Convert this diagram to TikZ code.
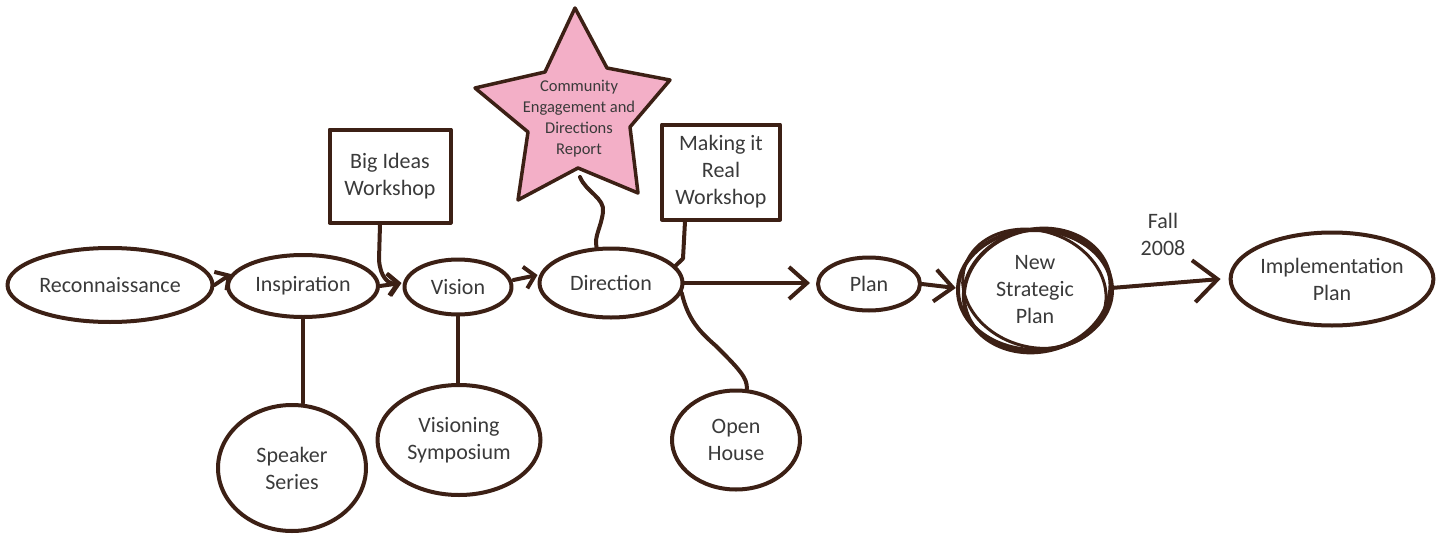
\documentclass[tikz,border=0pt]{standalone}
\usepackage{fontspec}
\setmainfont{Carlito}
\usetikzlibrary{shapes.geometric,arrows.meta,calc}
\definecolor{ink}{HTML}{3C2015}
\definecolor{txt}{HTML}{3A3A3A}
\definecolor{pinkfill}{HTML}{F3AFC7}
\begin{document}
\begin{tikzpicture}[x=1pt,y=-1pt,
  sk/.style={draw=ink, line width=4pt, line cap=round, line join=round},
  bigfont/.style={font=\fontsize{22}{27}\selectfont},
  bub/.style={sk, ellipse, inner sep=0pt, text=txt, align=center, bigfont},
  boxn/.style={sk, rectangle, inner sep=0pt, text=txt, align=center, bigfont},
  lbl/.style={text=txt, align=center, inner sep=0pt, bigfont},
  arrS/.style={sk, -{Straight Barb[length=10pt,width=22pt]}},
  arrM/.style={sk, -{Straight Barb[length=18pt,width=32pt]}},
  arrL/.style={sk, -{Straight Barb[length=24pt,width=42pt]}},
  conn/.style={sk}
]
\useasboundingbox (0,0) rectangle (1441,538);

% main chain
\node[bub, minimum width=205pt, minimum height=74pt] (recon) at (110,285) {Reconnaissance};
\node[bub, minimum width=150pt, minimum height=62pt] (insp) at (303,286) {Inspiration};
\node[bub, minimum width=107pt, minimum height=55pt] (vision) at (458,287) {Vision};
\node[bub, minimum width=143pt, minimum height=69pt] (direction) at (611,283) {Direction};
\node[bub, minimum width=102pt, minimum height=53pt] (plan) at (869,284) {Plan};
\node[lbl, minimum width=150pt, minimum height=118pt, ellipse] (nsp) at (1035,290) {New\\Strategic\\Plan};
\node[bub, minimum width=189pt, minimum height=93pt] (impl) at (1332,279) {Implementation\\Plan};

% lower bubbles
\node[bub, minimum width=148pt, minimum height=126pt] (speaker) at (292,468) {Speaker\\Series};
\node[bub, minimum width=163pt, minimum height=110pt] (visioning) at (459,440) {Visioning\\Symposium};
\node[bub, minimum width=128pt, minimum height=99pt] (openhouse) at (736,440) {Open\\House};

% boxes
\node[boxn, minimum width=121pt, minimum height=93pt] (bigideas) at (390,176) {Big Ideas\\Workshop};
\node[boxn, minimum width=118pt, minimum height=95pt] (making) at (721,172) {Making it\\Real\\Workshop};

% star
\coordinate (s1) at (575,8);
\coordinate (s2) at (607,68);
\coordinate (s3) at (670,80);
\coordinate (s4) at (630,127);
\coordinate (s5) at (638,193);
\coordinate (s6) at (578,168);
\coordinate (s7) at (518,200);
\coordinate (s8) at (528,132);
\coordinate (s9) at (475,88);
\coordinate (s10) at (545,72);
\draw[sk, fill=pinkfill, line width=3.5pt] (s1) -- (s2) -- (s3) -- (s4) -- (s5) -- (s6) -- (s7) -- (s8) -- (s9) -- (s10) -- cycle;
\node[text=txt, align=center, inner sep=0pt, font=\fontsize{16.5}{21}\selectfont] (star) at (579,119) {Community\\Engagement and\\Directions\\Report};
\coordinate (sb) at (580,177);

% New Strategic Plan scribbled circles
\draw[sk] (nsp.center) ellipse [x radius=77pt, y radius=60pt];
\draw[sk, rotate around={14:(nsp.center)}] ($(nsp.center)+(2,1)$) ellipse [x radius=74pt, y radius=61pt];
\draw[sk, line width=3pt, rotate around={-18:(nsp.center)}] ($(nsp.center)+(-1,-1)$) ellipse [x radius=73pt, y radius=58pt];

% Fall 2008
\node[lbl] (fall) at (1163,234) {Fall\\2008};

% arrows along the chain
\draw[arrS] (recon.east) -- ($(insp.west)+(5,-12)$);
\draw[arrS] (insp.east) -- ($(vision.west)+(-1,-4)$);
\draw[arrS] ($(vision.east)+(0,-7)$) -- ($(direction.west)+(0,-8)$);
\draw[arrM] (direction.east) -- ($(plan.west)+(-6,-1)$);
\draw[arrM] (plan.east) -- ($(nsp.west)+(-4,-2)$);
\draw[arrL] ($(nsp.east)+(1,-2)$) -- ($(impl.west)+(-8,0)$);

% side connectors
\draw[arrS] ($(bigideas.south)+(-10,0)$) -- ($(bigideas.south)+(-11,35)$)
  .. controls ($(bigideas.south)+(-10,52)$) and ($(bigideas.south)+(-2,60)$) .. ($(vision.west)+(-2,-4)$);
\draw[conn] (insp.south) -- (insp.south |- speaker.north);
\draw[conn] (vision.south) -- (vision.south |- visioning.north);
\draw[conn] (sb) .. controls (586,192) and (605,198) .. (603,212)
  .. controls (601,228) and (594,236) .. (direction.112);
\draw[conn] ($(making.south west)+(25,0)$) -- ($(making.south west)+(23,37)$) -- (direction.15);
\draw[conn] (direction.-8) .. controls (688,320) and (700,332) .. (716,346)
  .. controls (738,368) and (748,378) .. (openhouse.78);
\end{tikzpicture}
\end{document}
